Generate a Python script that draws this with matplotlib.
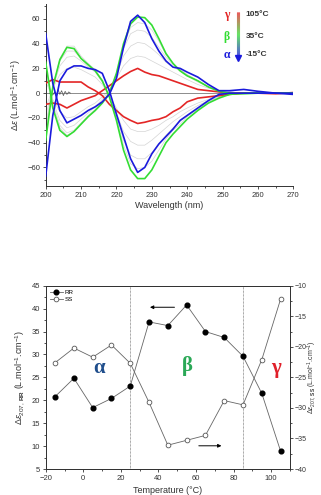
import numpy as np
import matplotlib
matplotlib.use("Agg")
import matplotlib.pyplot as plt
from matplotlib.collections import LineCollection
from matplotlib.colors import LinearSegmentedColormap
from matplotlib.ticker import MultipleLocator

plt.rcParams['font.family'] = ['Liberation Sans', 'DejaVu Sans']
plt.rcParams['mathtext.fontset'] = 'custom'
plt.rcParams['mathtext.rm'] = 'Liberation Sans'
plt.rcParams['mathtext.it'] = 'Liberation Sans:italic'
plt.rcParams['mathtext.bf'] = 'Liberation Sans:bold'

# ---- top panel: CD spectra ----
wl = [200, 202, 204, 206, 208, 210, 212, 214, 216, 218, 220, 222, 224, 226, 228,
      230, 232, 234, 236, 238, 240, 243, 246, 249, 252, 256, 260, 265, 270]

blue_pos = [48, 8, -14, -24, -21, -18, -14, -11, -7, -1, 12, 37, 58, 63, 57,
            44, 34, 26, 21, 20, 17, 13, 7, 2, 2, 3, 1.5, 0, -1]
blue_neg = [-67, -18, 10, 19, 22, 22, 20, 19, 16, 2, -17, -35, -53, -64, -60,
            -49, -41, -35, -29, -22, -18, -12, -6, -1, 0, 0, 0, 0, 0]
green_pos = [25, -12, -30, -35, -31, -25, -19, -14, -8, 0, 16, 40, 56, 61.5, 61,
             55, 44, 32, 24, 18, 14, 10, 5, 1.5, 0, -0.5, 0, 0, 0]
green_neg = [-38, 5, 27, 37, 36, 28, 23, 18, 10, -3, -22, -46, -62, -69, -69,
             -62, -51, -40, -33, -27, -21, -14, -8, -4, -1, 0, 0, 0, 0]
red_pos = [-9, -8, -9, -12, -9, -6, -4, -2, 2, 6, 10, 14, 17.5, 20, 17,
           15, 14, 12, 10, 8, 6, 3, 2, 1, 0, 0, 0, -0.5, 0.5]
red_neg = [8, 11, 9, 9, 9, 9, 5, 2, -2, -9, -14, -19, -22, -24.5, -23.5,
           -22, -21, -19, -15, -12, -7, -4, -3, -2, -1, 0, 0, 0, 0]

gray_curves = [
    [10, -5, -15, -20, -19, -15, -11, -8, -3, 3, 12, 22, 28, 30, 29,
     26, 23, 20, 17, 14, 11, 7, 4, 2, 1, 0, 0, 0, 0],
    [15, -6, -22, -28, -26, -21, -16, -11, -5, 2, 15, 30, 38, 41, 40,
     36, 31, 25, 21, 18, 14, 9, 5, 2, 1, 0, 0, 0, 0],
    [20, -8, -26, -32, -30, -24, -18, -13, -7, 0, 16, 36, 48, 51, 50,
     45, 37, 29, 23, 19, 15, 10, 5, 2, 1, 0, 0, 0, 0],
    [22, -10, -28, -34, -31, -25, -19, -14, -8, 0, 16, 38, 53, 57, 56,
     51, 42, 31, 24, 19, 15, 10, 5, 2, 0.5, 0, 0, 0, 0],
    [-12, 4, 15, 20, 21, 19, 16, 13, 7, -2, -12, -22, -29, -31, -31,
     -29, -26, -22, -19, -15, -12, -8, -5, -2, -1, 0, 0, 0, 0],
    [-18, 4, 22, 29, 30, 26, 21, 17, 9, -2, -16, -31, -39, -42, -42,
     -38, -33, -28, -23, -19, -15, -10, -6, -3, -1, 0, 0, 0, 0],
    [-25, 5, 26, 34, 34, 28, 22, 18, 9, -3, -18, -38, -50, -53, -53,
     -48, -41, -34, -28, -23, -18, -12, -7, -3, -1, 0, 0, 0, 0],
    [-30, 5, 28, 38, 38, 30, 24, 19, 10, -3, -20, -42, -57, -61, -60,
     -55, -46, -37, -30, -25, -19, -13, -7, -3, -1, 0, 0, 0, 0],
]

noise_wl = [201, 202, 202.5, 203, 203.5, 204, 204.5, 205, 205.5, 206, 206.5, 207]
noise_val = [0, -1.5, 1, -2, 3, -1, 2, -2, 1.5, -1, 1, 0]

# ---- bottom panel: temperature dependence ----
temp = [-15, -5, 5, 15, 25, 35, 45, 55, 65, 75, 85, 95, 105]
de_rr = [20.8, 24.8, 18.4, 20.4, 23.1, 37.1, 36.3, 40.8, 35.0, 33.7, 29.6, 21.5, 8.9]
de_ss = [-22.6, -20.2, -21.7, -19.7, -22.7, -29.1, -36.1, -35.3, -34.5, -28.8, -29.5, -22.1, -12.2]

BLUE = '#1a1adc'
GREEN = '#33dd33'
RED = '#e32626'
TXT = '#333333'

fig = plt.figure(figsize=(3.21, 4.95), dpi=100)

# top axes
ax = fig.add_axes([0.1424, 0.6242, 0.7713, 0.3677])
for g in gray_curves:
    ax.plot(wl, g, color='#d4d4d4', lw=0.5, zorder=1)
ax.axhline(0, color='#8c8c8c', lw=0.7, zorder=1.5)
ax.plot(noise_wl, noise_val, color='#555555', lw=0.5, zorder=2)
ax.plot(wl, red_pos, color=RED, lw=1.2, zorder=3)
ax.plot(wl, red_neg, color=RED, lw=1.2, zorder=3)
ax.plot(wl, green_pos, color=GREEN, lw=1.2, zorder=3)
ax.plot(wl, green_neg, color=GREEN, lw=1.2, zorder=3)
ax.plot(wl, blue_pos, color=BLUE, lw=1.2, zorder=4)
ax.plot(wl, blue_neg, color=BLUE, lw=1.2, zorder=4)

ax.set_xlim(200, 270)
ax.set_ylim(-75, 72)
ax.xaxis.set_major_locator(MultipleLocator(10))
ax.xaxis.set_minor_locator(MultipleLocator(5))
ax.yaxis.set_major_locator(MultipleLocator(20))
ax.yaxis.set_minor_locator(MultipleLocator(10))
for s in ['top', 'right']:
    ax.spines[s].set_visible(False)
for s in ['left', 'bottom']:
    ax.spines[s].set_color(TXT)
    ax.spines[s].set_linewidth(0.7)
ax.tick_params(which='both', direction='out', labelsize=5.5, colors=TXT, width=0.6)
ax.tick_params(which='major', length=2.5, pad=1.5)
ax.tick_params(which='minor', length=1.5)
ax.set_xlabel('Wavelength (nm)', fontsize=6.5, color=TXT, labelpad=2)
ax.set_ylabel(r'$\Delta\varepsilon$ (L.mol$^{-1}$.cm$^{-1}$)', fontsize=6.5, color=TXT, labelpad=3)

# gradient arrow legend
cmap = LinearSegmentedColormap.from_list('rgb', [BLUE, GREEN, RED])
ys = np.linspace(30, 65.6, 60)
pts = np.array([[254.4, y] for y in ys])
segs = np.stack([pts[:-1], pts[1:]], axis=1)
lc = LineCollection(segs, cmap=cmap, linewidths=2.2, zorder=6)
lc.set_array(np.linspace(0, 1, len(segs)))
ax.add_collection(lc)
ax.plot([254.4], [28.0], marker='v', color=BLUE, markersize=4.5, zorder=7)
for g, y, c, lab in [('γ', 63.4, RED, '105°C'), ('β', 45.7, GREEN, '35°C'), ('α', 30.9, BLUE, '-15°C')]:
    ax.text(251.1, y, g, color=c, fontsize=8.5, family=['Liberation Serif', 'DejaVu Serif'],
            fontweight='bold', ha='center', va='center')
    ax.text(256.6, y, lab, color=TXT, fontsize=6, fontweight='bold', ha='left', va='center')

# bottom axes
bx = fig.add_axes([0.1424, 0.0525, 0.761, 0.3703])
bx2 = bx.twinx()
l1, = bx.plot(temp, de_rr, color='#666666', lw=0.6, marker='o', markersize=3.4,
              markerfacecolor='black', markeredgecolor='black', label='RR', zorder=3)
l2, = bx2.plot(temp, de_ss, color='#666666', lw=0.6, marker='o', markersize=3.4,
               markerfacecolor='white', markeredgecolor='#555555', markeredgewidth=0.6,
               label='SS', zorder=3)
bx.set_xlim(-20, 110)
bx.set_ylim(5, 45)
bx2.set_ylim(-40, -10)
for xv in [25, 85]:
    bx.axvline(xv, color='#555555', lw=0.5, ls=(0, (1, 1)), zorder=1)

bx.xaxis.set_major_locator(MultipleLocator(20))
bx.xaxis.set_minor_locator(MultipleLocator(10))
bx.yaxis.set_major_locator(MultipleLocator(5))
bx.yaxis.set_minor_locator(MultipleLocator(2.5))
bx2.yaxis.set_major_locator(MultipleLocator(5))
bx2.yaxis.set_minor_locator(MultipleLocator(2.5))
for a in (bx, bx2):
    for s in a.spines.values():
        s.set_color(TXT)
        s.set_linewidth(0.7)
    a.tick_params(which='both', direction='out', labelsize=5.5, colors=TXT, width=0.6)
    a.tick_params(which='major', length=2.5, pad=1.5)
    a.tick_params(which='minor', length=1.5)
bx2.tick_params(which='major', labelsize=5, pad=1)

bx.set_xlabel('Temperature (°C)', fontsize=6.5, color=TXT, labelpad=3)
bx.set_ylabel(r'$\Delta\varepsilon_{207,\,\mathbf{RR}}$ (L.mol$^{-1}$.cm$^{-1}$)',
              fontsize=6.5, color=TXT, labelpad=3)
bx2.set_ylabel(r'$\Delta\varepsilon_{207,\,\mathbf{SS}}$ (L.mol$^{-1}$.cm$^{-1}$)',
               fontsize=5, color=TXT)
bx2.yaxis.set_label_coords(1.066, 0.5)

bx.annotate('', xy=(34, 40.3), xytext=(50, 40.3),
            arrowprops=dict(arrowstyle='-|>', color='black', lw=0.7, mutation_scale=5))
bx2.annotate('', xy=(75, -36.2), xytext=(60, -36.2),
             arrowprops=dict(arrowstyle='-|>', color='black', lw=0.7, mutation_scale=5))

serif = ['Liberation Serif', 'DejaVu Serif']
bx.text(8.3, 27, 'α', color='#1f4e8c', fontsize=15, family=serif, fontweight='bold', ha='center', va='center')
bx.text(55.4, 27.5, 'β', color='#2aa856', fontsize=15, family=serif, fontweight='bold', ha='center', va='center')
bx.text(102.4, 27, 'γ', color='#e0202a', fontsize=15, family=serif, fontweight='bold', ha='center', va='center')

bx.legend(handles=[l1, l2], loc='upper left', fontsize=4.5, frameon=False,
          handlelength=2.0, handletextpad=0.3, borderaxespad=0.3, labelspacing=0.2)

fig.savefig('out.png', dpi=100)
